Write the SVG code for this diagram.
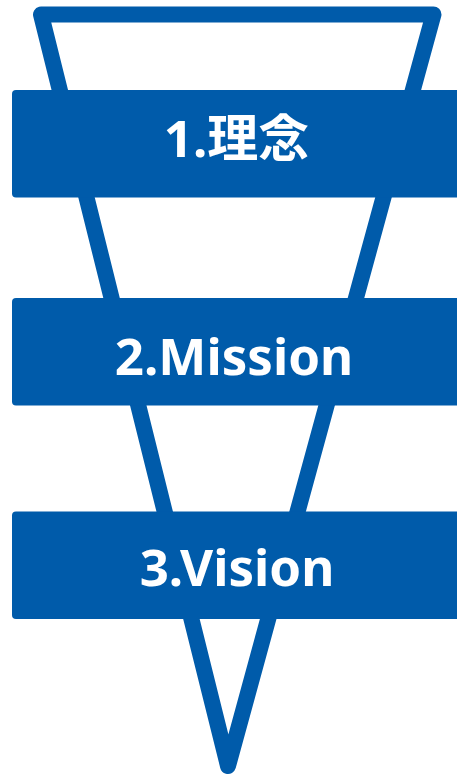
<svg xmlns="http://www.w3.org/2000/svg" width="457" height="776" viewBox="0 0 457 776">
<style>
.funnel{fill:none;stroke:#005BAA;stroke-width:16;stroke-linejoin:round}
.box{fill:#005BAA}
.lbl{fill:#FFFFFF;font-family:"Noto Sans","Noto Sans CJK JP",sans-serif;font-weight:bold;font-size:51px;text-anchor:middle}
</style>
<g id="connectors">
<path class="funnel" d="M41 14.5 L433.5 14.5 L228 766 Z"/>
</g>
<g id="node1">
<rect class="box" x="12" y="90" width="460" height="107.5" rx="4"/>
<text class="lbl" x="236.5" y="157">1.理念</text>
</g>
<g id="node2">
<rect class="box" x="12" y="298" width="460" height="107.5" rx="4"/>
<text class="lbl" x="234" y="375">2.Mission</text>
</g>
<g id="node3">
<rect class="box" x="12" y="511.5" width="460" height="107.5" rx="4"/>
<text class="lbl" x="237" y="586">3.Vision</text>
</g>
</svg>
